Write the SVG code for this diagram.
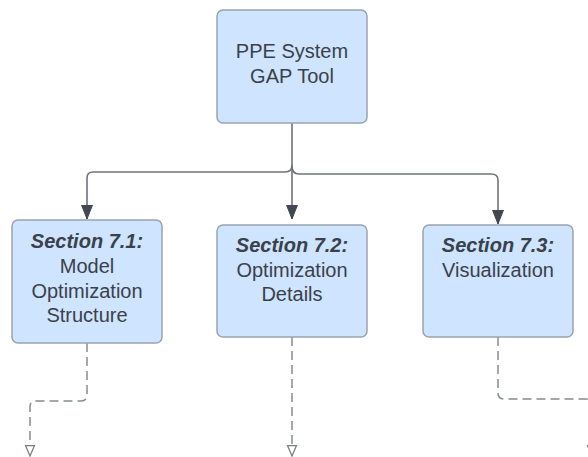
<svg xmlns="http://www.w3.org/2000/svg" width="588" height="457" viewBox="0 0 588 457">
  <style>
    .box { fill: #cfe4ff; stroke: #9ba3ad; stroke-width: 1.5; }
    .t { font-family: "Liberation Sans", Arial, sans-serif; font-size: 20px; fill: #3a414a; text-anchor: middle; }
    .b { font-weight: bold; font-style: italic; }
    .solid { fill: none; stroke: #6f737a; stroke-width: 1.6; }
    .dash { fill: none; stroke: #878c93; stroke-width: 1.5; stroke-dasharray: 9 5; }
  </style>
  <defs>
    <marker id="arrow" markerUnits="userSpaceOnUse" markerWidth="14" markerHeight="16" refX="7" refY="14" orient="0" viewBox="0 0 14 16">
      <path d="M1.5,0 L12.5,0 L7,14 Z" fill="#414852" stroke="#414852" stroke-width="1"/>
    </marker>
    <marker id="hollow" markerUnits="userSpaceOnUse" markerWidth="12" markerHeight="14" refX="6" refY="11.5" orient="0" viewBox="0 0 12 14">
      <path d="M1.5,1 L10.5,1 L6,11.5 Z" fill="#ffffff" stroke="#7a7f86" stroke-width="1.3"/>
    </marker>
  </defs>

  <g id="connectors">
    <path class="solid" d="M292,123 V219" marker-end="url(#arrow)"/>
    <path class="solid" d="M292,165 Q292,172 285,172 H93 Q87,172 87,178 V219" marker-end="url(#arrow)"/>
    <path class="solid" d="M292,166 Q292,174 299,174 H491 Q498,174 498,180 V224" marker-end="url(#arrow)"/>
    <path class="dash" d="M87,343 V395 Q87,401 81,401 H36 Q30,401 30,407 V456" marker-end="url(#hollow)"/>
    <path class="dash" d="M292,337 V456" marker-end="url(#hollow)"/>
    <path class="dash" d="M498,337 V393 Q498,399 504,399 H586 Q592,399 592,405 V456" marker-end="url(#hollow)"/>
  </g>

  <g id="node-ppe">
    <rect class="box" x="217" y="10" width="150" height="113" rx="6"/>
    <text class="t" x="292" y="58">PPE System</text>
    <text class="t" x="292" y="83">GAP Tool</text>
  </g>

  <g id="node-71">
    <rect class="box" x="12" y="220" width="150" height="123" rx="6"/>
    <text class="t b" x="87" y="248">Section 7.1:</text>
    <text class="t" x="87" y="273">Model</text>
    <text class="t" x="87" y="297.5">Optimization</text>
    <text class="t" x="87" y="322">Structure</text>
  </g>

  <g id="node-72">
    <rect class="box" x="217" y="225" width="150" height="112" rx="6"/>
    <text class="t b" x="292" y="252">Section 7.2:</text>
    <text class="t" x="292" y="276.5">Optimization</text>
    <text class="t" x="292" y="301">Details</text>
  </g>

  <g id="node-73">
    <rect class="box" x="423" y="225" width="150" height="112" rx="6"/>
    <text class="t b" x="498" y="252">Section 7.3:</text>
    <text class="t" x="498" y="277">Visualization</text>
  </g>
</svg>
